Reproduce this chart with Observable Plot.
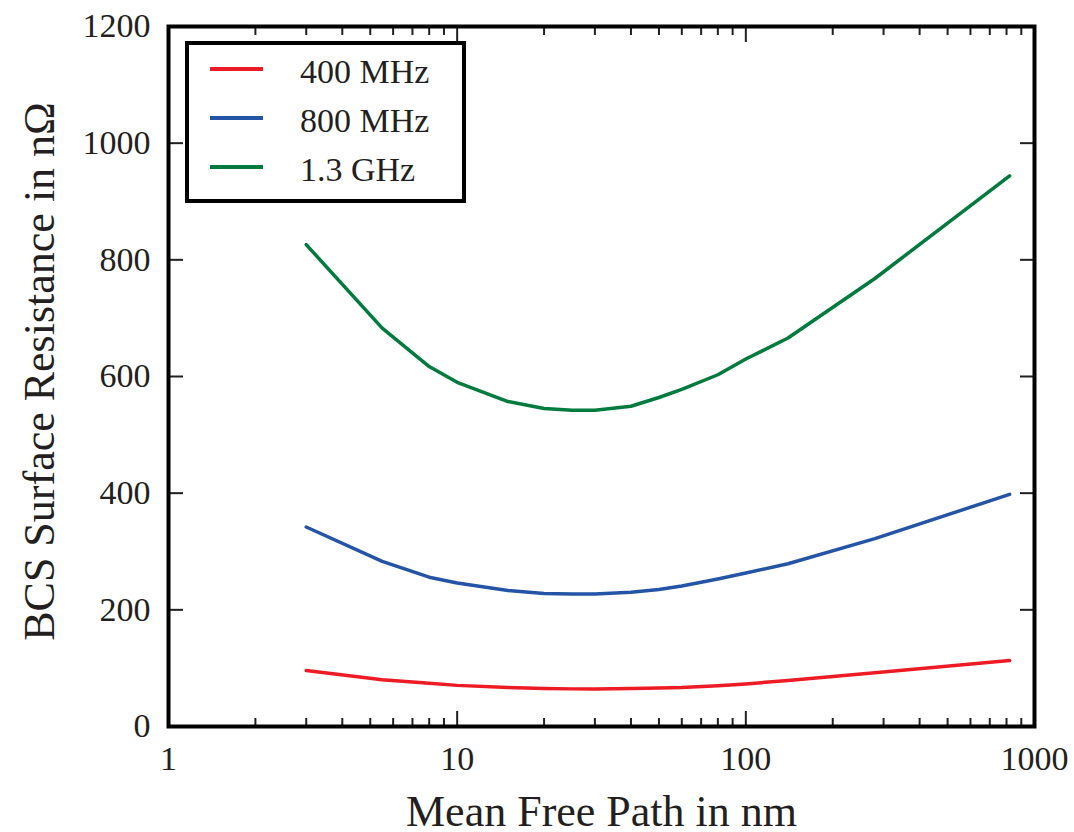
<!DOCTYPE html>
<html>
<head>
<meta charset="utf-8">
<script src="https://cdn.jsdelivr.net/npm/d3@7"></script>
<script src="https://cdn.jsdelivr.net/npm/@observablehq/plot@0.6"></script>
<style>
  body { margin: 0; background: #fff; }
  #wrap { position: relative; width: 1074px; height: 832px; overflow: hidden; }
  #legend { position: absolute; left: 0; top: 0; pointer-events: none; }
</style>
</head>
<body>
<div id="wrap"></div>
<script>
// ---- data ----
const mfp = [3, 5.5, 8, 10, 15, 20, 25, 30, 40, 50, 60, 80, 100, 140, 280, 820];
const r400 = [96, 80, 74, 70.5, 67, 65, 64.5, 64.5, 65, 66, 67, 70, 73, 79, 92, 113];
const r800 = [342, 283, 256, 246, 233, 228, 227, 227, 230, 235, 241, 253, 263, 279, 322, 398];
const r1300 = [826, 683, 617, 590, 557, 545, 542, 542, 549, 564, 578, 603, 630, 666, 768, 944];
const seriesNames = ["400 MHz", "800 MHz", "1.3 GHz"];
const seriesColors = ["#ED1C24", "#2454A6", "#007A3D"];
const xTicks = [1, 10, 100, 1000];
const xMinorTicks = [2, 3, 4, 5, 6, 7, 8, 9, 20, 30, 40, 50, 60, 70, 80, 90, 200, 300, 400, 500, 600, 700, 800, 900];
const yTicks = [0, 200, 400, 600, 800, 1000, 1200];
const xTitle = "Mean Free Path in nm";
const yTitle = "BCS Surface Resistance in n\u03A9";

const seriesValues = [r400, r800, r1300];
const data = seriesNames.flatMap((name, s) =>
  mfp.map((x, i) => ({ series: name, mfp: x, value: seriesValues[s][i] }))
);

const font = "'Liberation Serif', 'Times New Roman', Times, serif";
const ink = "#231f20";

const plot = Plot.plot({
  width: 1074,
  height: 832,
  marginLeft: 168,
  marginRight: 40,
  marginTop: 26,
  marginBottom: 106,
  style: { fontFamily: font, background: "#fff", color: ink, overflow: "visible" },
  x: { type: "log", domain: [1, 1000] },
  y: { domain: [0, 1200] },
  color: { domain: seriesNames, range: seriesColors },
  marks: [
    Plot.line(data, { x: "mfp", y: "value", z: "series", stroke: "series", strokeWidth: 3.5 }),
    // tick labels
    Plot.axisX({ anchor: "bottom", ticks: xTicks, tickSize: 0, tickPadding: 19, tickFormat: d => String(d), fontSize: 34, label: null }),
    Plot.axisY({ anchor: "left", ticks: yTicks, tickSize: 0, tickPadding: 18, tickFormat: d => String(d), fontSize: 34, label: null }),
    // inward ticks on all sides
    Plot.axisX({ anchor: "bottom", ticks: xTicks, tickSize: -15, strokeWidth: 2, fill: "none", label: null }),
    Plot.axisX({ anchor: "bottom", ticks: xMinorTicks, tickSize: -8, strokeWidth: 2, fill: "none", label: null }),
    Plot.axisX({ anchor: "top", ticks: xTicks, tickSize: -15, strokeWidth: 2, fill: "none", label: null }),
    Plot.axisX({ anchor: "top", ticks: xMinorTicks, tickSize: -8, strokeWidth: 2, fill: "none", label: null }),
    Plot.axisY({ anchor: "left", ticks: yTicks, tickSize: -15, strokeWidth: 2, fill: "none", label: null }),
    Plot.axisY({ anchor: "right", ticks: yTicks, tickSize: -15, strokeWidth: 2, fill: "none", label: null }),
    // axis titles
    Plot.text([xTitle], { text: d => d, frameAnchor: "bottom", dy: 99, lineAnchor: "bottom", textAnchor: "middle", fontSize: 44, fill: ink }),
    Plot.text([yTitle], { text: d => d, frameAnchor: "left", rotate: -90, dx: -115, dy: -5, lineAnchor: "bottom", textAnchor: "middle", fontSize: 44, fill: ink }),
    Plot.frame({ stroke: "#000", strokeWidth: 4 })
  ]
});

const wrap = document.getElementById("wrap");
wrap.appendChild(plot);

// ---- legend (inside plot area, upper left) ----
const legend = d3.select(wrap).append("svg")
  .attr("id", "legend")
  .attr("width", 1074)
  .attr("height", 832);
legend.append("rect")
  .attr("x", 187).attr("y", 43).attr("width", 277).attr("height", 158)
  .attr("fill", "#fff").attr("stroke", "#000").attr("stroke-width", 4);
const rows = legend.selectAll("g.row").data(seriesNames).join("g")
  .attr("transform", (d, i) => `translate(0,${69 + i * 49})`);
rows.append("line")
  .attr("x1", 210).attr("x2", 263).attr("y1", 0).attr("y2", 0)
  .attr("stroke", (d, i) => seriesColors[i]).attr("stroke-width", 4);
rows.append("text")
  .attr("x", 300).attr("y", 14)
  .attr("font-family", font).attr("font-size", 34).attr("fill", ink)
  .text(d => d);
</script>
</body>
</html>
